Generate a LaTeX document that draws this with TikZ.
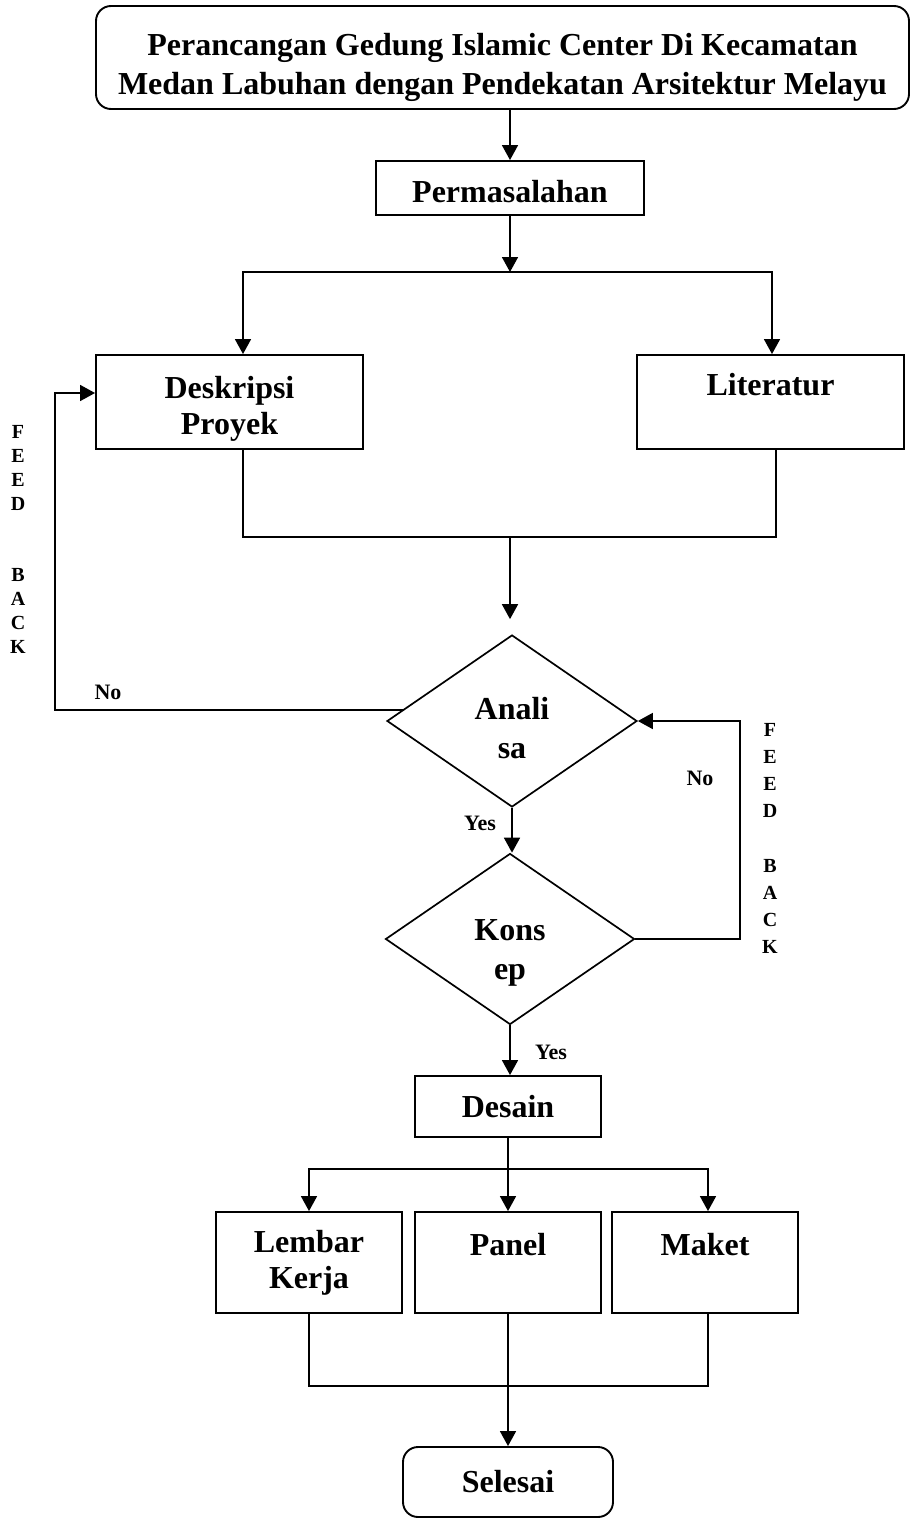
\documentclass[tikz,border=0pt]{standalone}
\usepackage{fontspec}
\setmainfont{Liberation Serif}
\usetikzlibrary{arrows.meta,positioning,calc,shapes.geometric}

\begin{document}
\begin{tikzpicture}[
  x=1pt,y=-1pt,font=\bfseries,
  flow/.style={draw=black,line width=1.7pt},
  arr/.style={flow,-{Triangle[length=15pt,width=16pt]}},
  proc/.style={draw=black,line width=1.9pt,align=center,inner sep=0pt,
               font=\bfseries\fontsize{32}{36}\selectfont},
  term/.style={proc,rounded corners=15pt},
  decide/.style={proc,diamond,aspect=1.45,line width=1.7pt,
                 font=\bfseries\fontsize{32}{39}\selectfont},
  lbl/.style={inner sep=0pt,font=\bfseries\fontsize{22}{26}\selectfont},
  fbtext/.style={lbl,align=center,font=\bfseries\fontsize{20}{23.9}\selectfont}
]
\useasboundingbox (0,0) rectangle (910,1518);
% ---------- start and problem
\node[term,minimum width=813pt,minimum height=103pt,font=\bfseries\fontsize{32}{39}\selectfont] (title) at (502.5,57.5)
  {\rule{0pt}{42pt}Perancangan Gedung Islamic Center Di Kecamatan\\Medan Labuhan dengan Pendekatan Arsitektur Melayu};
\node[proc,minimum width=268pt,minimum height=54pt] (perm) at (510,188) {\rule{0pt}{30pt}Permasalahan};
% ---------- data
\node[proc,minimum width=267pt,minimum height=94pt] (desk) at (229.5,402) {\rule{0pt}{36pt}Deskripsi\\Proyek};
\node[proc,minimum width=267pt,minimum height=94pt] (lit)  at (770.5,402) {Literatur\\\phantom{L}};
% ---------- decisions
\node[decide,minimum width=250pt,minimum height=172pt] (ana) at (512,721) {\rule{0pt}{36pt}Anali\\sa};
\node[decide,minimum width=249pt,minimum height=171pt] (kon) at (510,939) {\rule{0pt}{48pt}Kons\\ep};
% ---------- design and outputs
\node[proc,minimum width=186pt,minimum height=61pt] (des) at (508,1106.5) {Desain};
\node[proc,minimum width=186pt,minimum height=101pt] (lem) at (309,1262.5) {Lembar\\Kerja};
\node[proc,minimum width=186pt,minimum height=101pt] (pan) at (508,1262.5) {Panel\\\phantom{P}};
\node[proc,minimum width=186pt,minimum height=101pt] (mak) at (705,1262.5) {Maket\\\phantom{M}};
\node[term,minimum width=210pt,minimum height=70pt] (sel) at (508,1482) {Selesai};
% ---------- labels
\node[lbl] (noleft)  at (108,692) {No};
\node[lbl] (noright) at (700,778) {No};
\node[lbl] (yesana)  at (480,823) {Yes};
\node[lbl] (yeskon)  at (551,1052) {Yes};
\node[fbtext] (fbl) at (18,539.5) {F\\E\\E\\D\\\mbox{}\\\mbox{}\\B\\A\\C\\K};
\node[fbtext,font=\bfseries\fontsize{20}{27.1}\selectfont] (fbr) at (770,838.5) {F\\E\\E\\D\\\mbox{}\\B\\A\\C\\K};
% ---------- connectors
\coordinate (fork)    at (510,272);
\coordinate (join)    at (510,537);
\coordinate (split)   at (508,1169);
\coordinate (merge)   at (508,1386);
\coordinate (fbleft)  at (55,0);
\coordinate (fbright) at (740,0);
\coordinate (nostart) at ($(ana.west)!0.13!(ana.north)$);
\draw[arr] (title.south -| perm.north) -- (perm.north);
\draw[arr] (perm.south) -- (fork);
\draw[arr] (fork) -| ([xshift=13.5pt]desk.north);
\draw[arr] (fork) -| ([xshift=1.5pt]lit.north);
\draw[flow] ([xshift=13.5pt]desk.south) |- (join) -| ([xshift=5.5pt]lit.south);
\draw[arr] (join) -- ([yshift=15pt]join |- ana.north);
\draw[arr] (nostart) -- (nostart -| fbleft) |- ([yshift=9pt]desk.west);
\draw[arr] (ana.south) -- (ana.south |- kon.north);
\draw[arr] (kon.east) -- (kon.east -| fbright) |- (ana.east);
\draw[arr] (kon.south) -- (kon.south |- des.north);
\draw[flow] (des.south) -- (split);
\draw[arr] (split) -| (lem.north);
\draw[arr] (split) -- (pan.north);
\draw[arr] (split) -| ([xshift=3pt]mak.north);
\draw[flow] (lem.south) |- (merge) -| ([xshift=3pt]mak.south);
\draw[arr] (pan.south) -- (sel.north);
\end{tikzpicture}
\end{document}
